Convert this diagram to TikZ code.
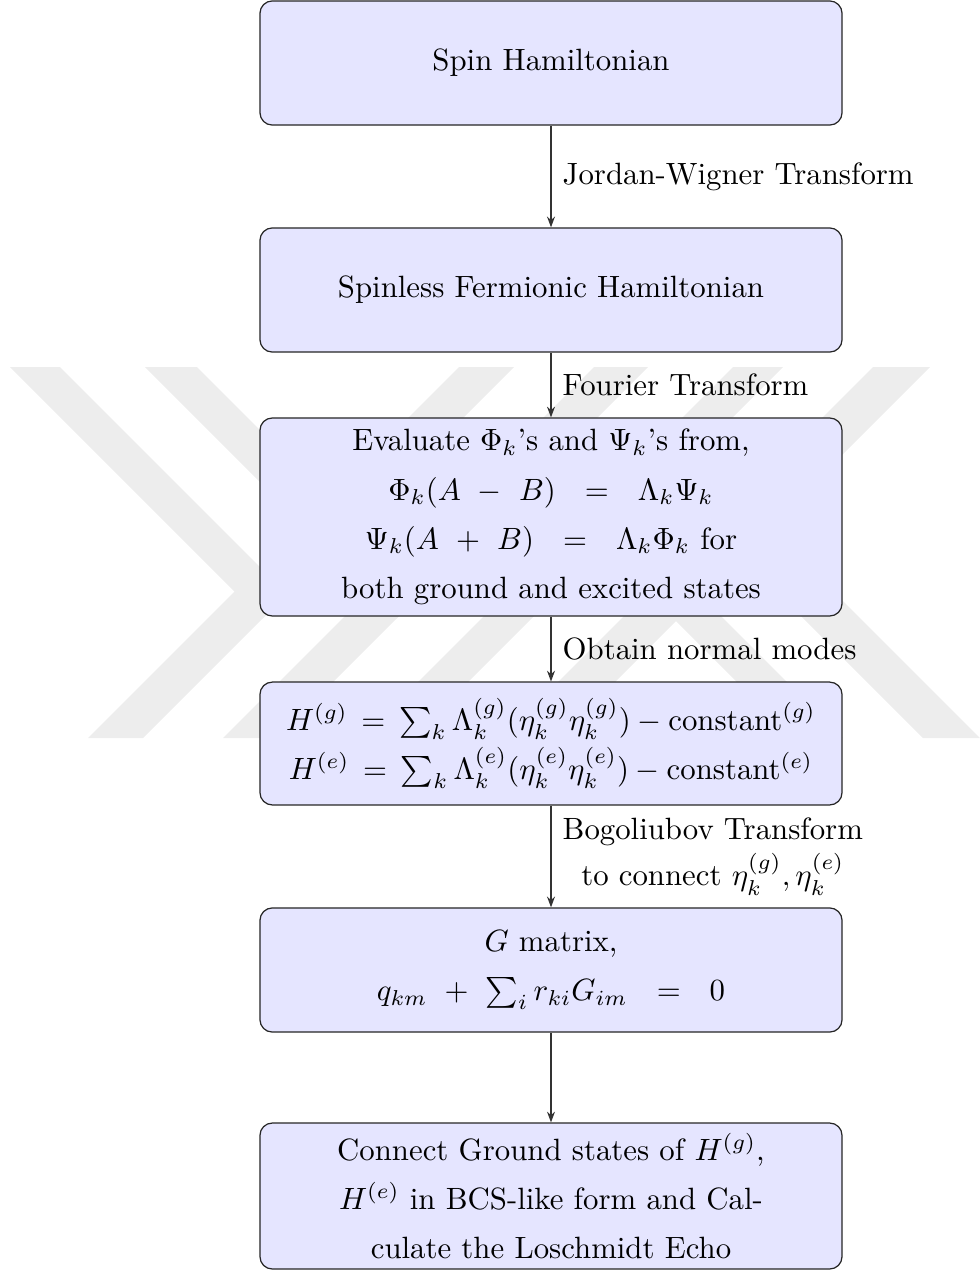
\documentclass[tikz,border=0pt]{standalone}
\usetikzlibrary{arrows.meta}
\definecolor{wm}{gray}{0.93}
\begin{document}
\begin{tikzpicture}[x=0.3247pt,y=-0.3247pt,
  box/.style={draw=black!85, fill=blue!10, rounded corners, minimum width=189pt,
    align=center, font=\fontsize{10pt}{16pt}\selectfont, inner sep=0pt},
  arr/.style={draw=black!80, -{Stealth[length=3.5pt,width=2.6pt]}},
  lab/.style={right, inner sep=3.6pt, align=center, font=\fontsize{10pt}{15pt}\selectfont}]
\useasboundingbox (0,0) rectangle (980,1270);
% faint watermark
\fill[wm] (10,367) -- (60,367) -- (287,594) -- (262,619) -- cycle;
\fill[wm] (145,367) -- (197,367) -- (422.5,592.5) -- (396.5,618.5) -- cycle;
\fill[wm] (793,738) -- (843,738) -- (602.5,497.5) -- (577.5,522.5) -- cycle;
\fill[wm] (923,738) -- (980,738) -- (741,499) -- (712.5,527.5) -- cycle;
\fill[wm] (459,367) -- (514,367) -- (143,738) -- (88,738) -- cycle;
\fill[wm] (594,367) -- (648,367) -- (277,738) -- (223,738) -- cycle;
\fill[wm] (733,367) -- (783,367) -- (412,738) -- (362,738) -- cycle;
\fill[wm] (873,367) -- (930,367) -- (559,738) -- (502,738) -- cycle;
% boxes
\node[box, minimum height=40.3pt] (b1) at (551,63) {Spin Hamiltonian};
\node[box, minimum height=40.3pt] (b2) at (551,290) {Spinless Fermionic Hamiltonian};
\node[box, minimum height=64.3pt] (b3) at (551,517) {Evaluate $\Phi_k$'s and $\Psi_k$'s from,\\
  $\Phi_k(A\ -\ B)\ \ =\ \ \Lambda_k\Psi_k$\\
  $\Psi_k(A\ +\ B)\ \ =\ \ \Lambda_k\Phi_k$ for\\
  both ground and excited states};
\node[box, minimum height=39.9pt] (b4) at (551,743.5) {$H^{(g)}\,=\,\sum_k \Lambda_k^{(g)}(\eta_k^{(g)}\eta_k^{(g)}) - \mathrm{constant}^{(g)}$\\
  $H^{(e)}\,=\,\sum_k \Lambda_k^{(e)}(\eta_k^{(e)}\eta_k^{(e)}) - \mathrm{constant}^{(e)}$};
\node[box, minimum height=40.3pt] (b5) at (551,970) {$G$ matrix,\\
  $q_{km}\ +\ \sum_i r_{ki}G_{im}\ \ =\ \ 0$};
\node[box, minimum height=47.4pt] (b6) at (551,1196) {Connect Ground states of $H^{(g)}$,\\
  $H^{(e)}$ in BCS-like form and Cal-\\
  culate the Loschmidt Echo};
% connectors
\draw[arr] (b1) -- (b2) node[lab, midway] {Jordan-Wigner Transform};
\draw[arr] (b2) -- (b3) node[lab, midway] {Fourier Transform};
\draw[arr] (b3) -- (b4) node[lab, midway] {Obtain normal modes};
\draw[arr] (b4) -- (b5) node[lab, midway] {Bogoliubov Transform\\to connect $\eta_k^{(g)},\eta_k^{(e)}$};
\draw[arr] (b5) -- (b6);
\end{tikzpicture}
\end{document}
